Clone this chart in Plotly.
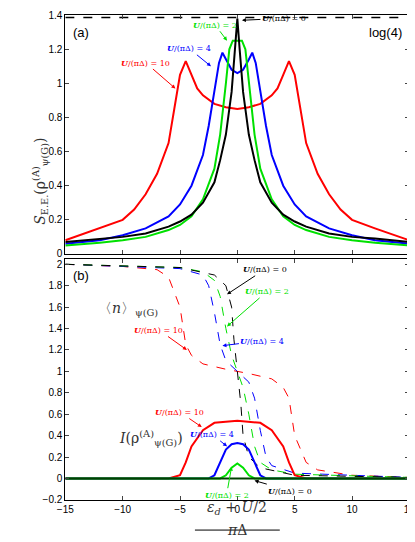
from plotly.subplots import make_subplots
import plotly.graph_objects as go

# entanglement entropy (top panel)
x_u0 = [-15, -12, -10, -8, -6, -5, -4, -3, -2, -1.5, -1, -0.5, -0.2, 0, 0.2, 0.5, 1, 1.5, 2, 3, 4, 5, 6, 8, 10, 12, 15]
s_u0 = [0.07, 0.09, 0.10, 0.12, 0.16, 0.19, 0.23, 0.30, 0.42, 0.55, 0.70, 0.95, 1.2, 1.38, 1.2, 0.95, 0.70, 0.55, 0.42, 0.30, 0.23, 0.19, 0.16, 0.12, 0.10, 0.09, 0.07]
x_u2 = [-15, -12, -10, -8, -6, -5, -4, -3, -2, -1.5, -1, -0.7, -0.4, 0, 0.4, 0.7, 1, 1.5, 2, 3, 4, 5, 6, 8, 10, 12, 15]
s_u2 = [0.05, 0.065, 0.08, 0.10, 0.14, 0.17, 0.22, 0.32, 0.50, 0.70, 1.0, 1.2, 1.25, 1.25, 1.25, 1.2, 1.0, 0.70, 0.50, 0.32, 0.22, 0.17, 0.14, 0.10, 0.08, 0.065, 0.05]
x_u4 = [-15, -12, -10, -8, -6, -5, -4, -3, -2.5, -2, -1.6, -1.3, -1, -0.5, 0, 0.5, 1, 1.3, 1.6, 2, 2.5, 3, 4, 5, 6, 8, 10, 12, 15]
s_u4 = [0.06, 0.08, 0.11, 0.15, 0.22, 0.29, 0.40, 0.58, 0.75, 0.95, 1.12, 1.18, 1.14, 1.08, 1.06, 1.08, 1.14, 1.18, 1.12, 0.95, 0.75, 0.58, 0.40, 0.29, 0.22, 0.15, 0.11, 0.08, 0.06]
x_u10 = [-15, -12, -10, -9, -8, -7, -6, -5.5, -5, -4.5, -4, -3.5, -3, -2, -1, 0, 1, 2, 3, 3.5, 4, 4.5, 5, 5.5, 6, 7, 8, 9, 10, 12, 15]
s_u10 = [0.08, 0.15, 0.20, 0.26, 0.35, 0.47, 0.65, 0.85, 1.05, 1.13, 1.05, 0.97, 0.93, 0.88, 0.86, 0.85, 0.86, 0.88, 0.93, 0.97, 1.05, 1.13, 1.05, 0.85, 0.65, 0.47, 0.35, 0.26, 0.20, 0.15, 0.08]

# occupation <n> (bottom panel, dashed)
xn_u0 = [-15, -5, -2, -1, -0.5, -0.3, 0, 0.3, 0.5, 1, 2, 5, 15]
n_u0 = [2.0, 1.97, 1.9, 1.8, 1.6, 1.3, 1.0, 0.7, 0.4, 0.2, 0.1, 0.03, 0.01]
xn_u2 = [-15, -5, -3, -2, -1.5, -1, -0.5, 0, 0.5, 1, 1.5, 2, 3, 5, 15]
n_u2 = [2.0, 1.97, 1.93, 1.85, 1.7, 1.4, 1.15, 1.0, 0.85, 0.6, 0.3, 0.15, 0.08, 0.04, 0.01]
xn_u4 = [-15, -5, -3, -2.5, -2, -1.5, -1, 0, 1, 1.5, 2, 2.5, 3, 5, 15]
n_u4 = [2.0, 1.96, 1.9, 1.8, 1.55, 1.25, 1.1, 1.0, 0.9, 0.75, 0.45, 0.2, 0.12, 0.05, 0.01]
xn_u10 = [-15, -10, -7, -6, -5, -4.5, -4, -3, -1, 0, 1, 3, 4, 4.5, 5, 6, 7, 10, 15]
n_u10 = [2.0, 1.98, 1.95, 1.88, 1.6, 1.25, 1.15, 1.07, 1.02, 1.0, 0.98, 0.93, 0.85, 0.75, 0.4, 0.15, 0.08, 0.03, 0.01]

# mutual information I (bottom panel, solid)
xi_u0 = [-15, 15]
i_u0 = [0, 0]
xi_u2 = [-15, -1.5, -1, -0.5, 0, 0.5, 1, 1.5, 15]
i_u2 = [0, 0, 0.03, 0.10, 0.14, 0.10, 0.03, 0, 0]
xi_u4 = [-15, -2.5, -2, -1.5, -1, -0.5, 0, 0.5, 1, 1.5, 2, 2.5, 15]
i_u4 = [0, 0, 0.03, 0.15, 0.27, 0.32, 0.33, 0.32, 0.27, 0.15, 0.03, 0, 0]
xi_u10 = [-15, -6, -5, -4.5, -4, -3, -2, 0, 2, 3, 4, 4.5, 5, 6, 15]
i_u10 = [0, 0, 0.03, 0.15, 0.30, 0.45, 0.52, 0.54, 0.52, 0.45, 0.30, 0.15, 0.03, 0, 0]

RED, GREEN, BLUE, BLACK = "#ff0000", "#00e000", "#0000ff", "#000000"

fig = make_subplots(rows=2, cols=1, shared_xaxes=True, vertical_spacing=0.01)

for xs, ys, c in [(x_u10, s_u10, RED), (x_u4, s_u4, BLUE), (x_u2, s_u2, GREEN), (x_u0, s_u0, BLACK)]:
    fig.add_trace(go.Scatter(x=xs, y=ys, mode="lines", line=dict(color=c, width=2)), row=1, col=1)
fig.add_trace(go.Scatter(x=[-15, 15], y=[1.3863, 1.3863], mode="lines",
                         line=dict(color="black", width=1.5, dash="dash")), row=1, col=1)

for xs, ys, c in [(xn_u10, n_u10, RED), (xn_u4, n_u4, BLUE), (xn_u2, n_u2, GREEN), (xn_u0, n_u0, BLACK)]:
    fig.add_trace(go.Scatter(x=xs, y=ys, mode="lines", line=dict(color=c, width=1, dash="dash")), row=2, col=1)
for xs, ys, c in [(xi_u10, i_u10, RED), (xi_u4, i_u4, BLUE), (xi_u2, i_u2, GREEN), (xi_u0, i_u0, "#004000")]:
    fig.add_trace(go.Scatter(x=xs, y=ys, mode="lines", line=dict(color=c, width=2)), row=2, col=1)

ax = dict(showline=True, mirror="ticks", linecolor="black", linewidth=1, ticks="inside",
          ticklen=4, showgrid=False, zeroline=False, tickfont=dict(size=10, color="black"))
fig.update_xaxes(**ax, range=[-15, 15], dtick=5)
fig.update_yaxes(**ax)
fig.update_xaxes(domain=[0.123, 0.981])
fig.update_yaxes(range=[-0.001, 1.401], dtick=0.2, domain=[0.507, 1], row=1, col=1)
fig.update_yaxes(range=[-0.201, 2.05], dtick=0.2, domain=[0, 0.497], row=2, col=1)

def lab(x, y, text, color, ax_, ay_, xref="x", yref="y"):
    fig.add_annotation(x=x, y=y, xref=xref, yref=yref, text=text, showarrow=True,
                       ax=ax_, ay=ay_, arrowhead=2, arrowsize=0.8, arrowwidth=1, arrowcolor=color,
                       font=dict(size=8, color=color, family="DejaVu Serif"))

U = "<b><i>U</i></b>/(πΔ) = "
lab(0.4, 1.37, U + "0", BLACK, 42, -2)
lab(-0.9, 1.25, U + "2", GREEN, -12, -16)
lab(-2.3, 1.1, U + "4", BLUE, -22, -18)
lab(-5.4, 0.97, U + "10", RED, -30, -26)
lab(-0.9, 1.72, U + "0", BLACK, 38, -25, "x2", "y2")
lab(-0.9, 1.42, U + "2", GREEN, 40, -35, "x2", "y2")
lab(-1.3, 1.24, U + "4", BLUE, 40, -5, "x2", "y2")
lab(-4.4, 1.2, U + "10", RED, -28, -20, "x2", "y2")
lab(-3.1, 0.48, U + "10", RED, -22, -15, "x2", "y2")
lab(-0.9, 0.3, U + "4", BLUE, -15, -12, "x2", "y2")
lab(-0.5, 0.11, U + "2", GREEN, -5, 28, "x2", "y2")
lab(1.5, -0.02, U + "0", BLACK, 35, 10, "x2", "y2")

tf = dict(size=13, color="black", family="Liberation Sans")
fig.add_annotation(x=-14.5, y=1.3, xref="x", yref="y", text="(a)", showarrow=False, xanchor="left", font=tf)
fig.add_annotation(x=14.5, y=1.3, xref="x", yref="y", text="log(4)", showarrow=False, xanchor="right", font=tf)
fig.add_annotation(x=-14.5, y=1.9, xref="x2", yref="y2", text="(b)", showarrow=False, xanchor="left", font=tf)
sf = dict(size=14, color="#333333", family="DejaVu Serif")
fig.add_annotation(x=-9.5, y=1.58, xref="x2", yref="y2", text="〈<i>n</i>〉<sub>ψ(G)</sub>", showarrow=False, font=sf)
fig.add_annotation(x=-7.5, y=0.38, xref="x2", yref="y2", text="<i>I</i>(ρ<sup>(A)</sup><sub>ψ(G)</sub>)", showarrow=False, font=sf)
fig.add_annotation(x=0.03, y=0.75, xref="paper", yref="paper", textangle=-90, showarrow=False,
                   text="<i>S</i><sub>E.E.</sub>(ρ<sup>(A)</sup><sub>ψ(G)</sub>)", font=sf)
fig.add_annotation(x=0, y=-0.04, xref="x2", yref="paper", showarrow=False,
                   text="<i>ε<sub>d</sub></i> + <i>U</i>/2", font=sf)
fig.add_annotation(x=0, y=-0.083, xref="x2", yref="paper", showarrow=False, text="<i>π</i>Δ", font=sf)
fig.add_shape(type="line", xref="x2", yref="paper", x0=-3.7, x1=3.7, y0=-0.062, y1=-0.062,
              line=dict(color="black", width=1))

fig.update_layout(width=415, height=542, margin=dict(l=0, r=0, t=7, b=50),
                  showlegend=False, plot_bgcolor="white", paper_bgcolor="white",
                  font=dict(family="Liberation Sans", color="black"))
fig.write_html("out.html")
